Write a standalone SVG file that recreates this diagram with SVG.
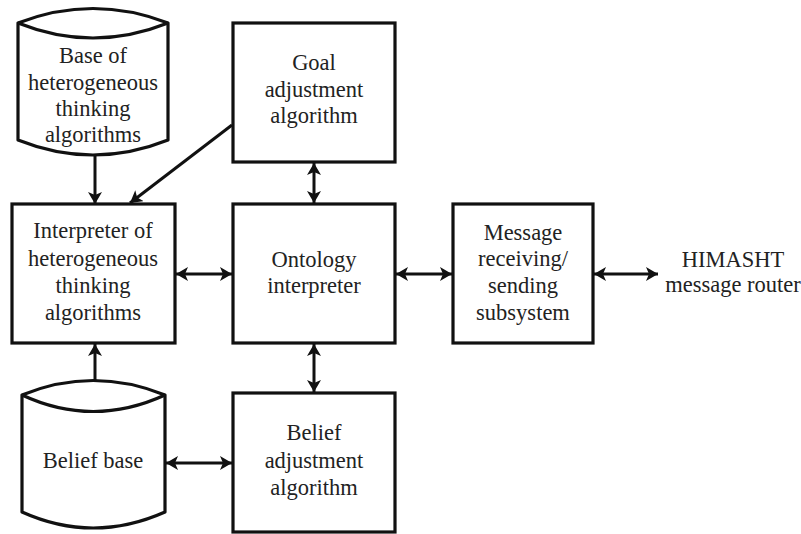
<svg xmlns="http://www.w3.org/2000/svg" width="801" height="534" viewBox="0 0 801 534">
  <style>
    .box { fill: #fff; stroke: #111; stroke-width: 3.2; }
    .db { fill: #fff; stroke: #111; stroke-width: 3.2; stroke-linejoin: round; }
    .lbl { font-family: "Liberation Serif", "Times New Roman", serif; font-size: 22.5px; fill: #222; text-anchor: middle; }
    .link { stroke: #111; stroke-width: 3; fill: none; }
  </style>
  <defs>
    <marker id="head" viewBox="0 0 12 14" refX="12" refY="7" markerWidth="12" markerHeight="14" markerUnits="userSpaceOnUse" orient="auto-start-reverse">
      <path d="M0,0 L12,7 L0,14 L3,7 Z" fill="#111"/>
    </marker>
  </defs>
  <rect width="801" height="534" fill="#fff"/>

  <g id="connectors">
    <line class="link" x1="95" y1="155" x2="95" y2="204" marker-end="url(#head)"/>
    <line class="link" x1="232" y1="125" x2="130" y2="203" marker-end="url(#head)"/>
    <line class="link" x1="314" y1="163" x2="314" y2="203" marker-start="url(#head)" marker-end="url(#head)"/>
    <line class="link" x1="176" y1="274" x2="232" y2="274" marker-start="url(#head)" marker-end="url(#head)"/>
    <line class="link" x1="396" y1="274" x2="452" y2="274" marker-start="url(#head)" marker-end="url(#head)"/>
    <line class="link" x1="594" y1="274" x2="658" y2="274" marker-start="url(#head)" marker-end="url(#head)"/>
    <line class="link" x1="95" y1="381" x2="95" y2="344" marker-end="url(#head)"/>
    <line class="link" x1="314" y1="344" x2="314" y2="392" marker-start="url(#head)" marker-end="url(#head)"/>
    <line class="link" x1="166" y1="463" x2="232" y2="463" marker-start="url(#head)" marker-end="url(#head)"/>
  </g>

  <g id="algorithm-base">
    <path class="db" d="M18,23 Q93,-6 168,23 L168,140 Q93,170 18,140 Z"/>
    <path class="db" d="M18,23 Q93,53 168,23" fill="none"/>
    <text class="lbl" x="93" y="63">Base of</text>
    <text class="lbl" x="93" y="90">heterogeneous</text>
    <text class="lbl" x="93" y="116">thinking</text>
    <text class="lbl" x="93" y="142">algorithms</text>
  </g>

  <g id="goal-adjustment">
    <rect class="box" x="233" y="23" width="162" height="139"/>
    <text class="lbl" x="314" y="70">Goal</text>
    <text class="lbl" x="314" y="97">adjustment</text>
    <text class="lbl" x="314" y="123">algorithm</text>
  </g>

  <g id="algorithm-interpreter">
    <rect class="box" x="12" y="204" width="163" height="139"/>
    <text class="lbl" x="93" y="238">Interpreter of</text>
    <text class="lbl" x="93" y="266">heterogeneous</text>
    <text class="lbl" x="93" y="293">thinking</text>
    <text class="lbl" x="93" y="320">algorithms</text>
  </g>

  <g id="ontology-interpreter">
    <rect class="box" x="233" y="204" width="162" height="139"/>
    <text class="lbl" x="314" y="267">Ontology</text>
    <text class="lbl" x="314" y="293">interpreter</text>
  </g>

  <g id="messaging">
    <rect class="box" x="453" y="204" width="140" height="139"/>
    <text class="lbl" x="523" y="240">Message</text>
    <text class="lbl" x="523" y="266">receiving/</text>
    <text class="lbl" x="523" y="293">sending</text>
    <text class="lbl" x="523" y="320">subsystem</text>
  </g>

  <g id="router">
    <text class="lbl" x="733" y="267">HIMASHT</text>
    <text class="lbl" x="733" y="292">message router</text>
  </g>

  <g id="belief-base">
    <path class="db" d="M22,395 Q93,366 165,395 L165,512 Q93,544 22,512 Z"/>
    <path class="db" d="M22,395 Q93,428 165,395" fill="none"/>
    <text class="lbl" x="93" y="468">Belief base</text>
  </g>

  <g id="belief-adjustment">
    <rect class="box" x="233" y="393" width="162" height="139"/>
    <text class="lbl" x="314" y="440">Belief</text>
    <text class="lbl" x="314" y="468">adjustment</text>
    <text class="lbl" x="314" y="495">algorithm</text>
  </g>
</svg>
